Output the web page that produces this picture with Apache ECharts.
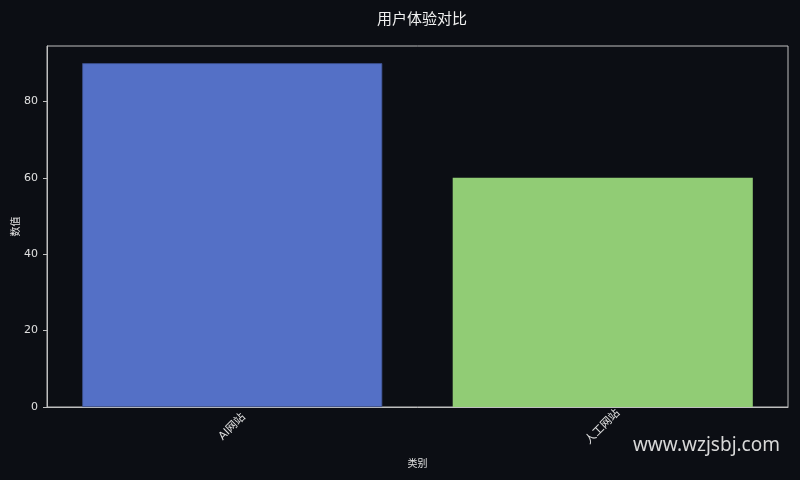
<!DOCTYPE html>
<html>
<head>
<meta charset="utf-8">
<script src="https://cdn.jsdelivr.net/npm/echarts@6/dist/echarts.min.js"></script>
<style>
  html, body { margin: 0; padding: 0; background: #0c0e14; }
  #chart { width: 800px; height: 480px; }
</style>
</head>
<body>
<div id="chart"></div>
<script>
  // chart data
  var categories = ["AI网站", "人工网站"];
  var values = [90, 60];
  var barColors = ["#5470c6", "#91cc75"];

  var FONT = "'DejaVu Sans', 'Noto Sans CJK SC', sans-serif";
  var TEXT = "#e0e0e0";
  var LINE = "#bfbfbf";

  var chart = echarts.init(document.getElementById("chart"), null, { renderer: "canvas" });

  chart.setOption({
    backgroundColor: "#0c0e14",
    animation: false,
    title: {
      text: "用户体验对比",
      left: 417,
      top: 8,
      textAlign: "center",
      textStyle: { color: "#f0f0f0", fontSize: 15, fontWeight: "normal", fontFamily: FONT }
    },
    graphic: [{
      type: "text",
      right: 20,
      top: 436,
      style: { text: "www.wzjsbj.com", fill: "#d8d8d8", fontSize: 19, fontFamily: "'Noto Sans', 'DejaVu Sans', sans-serif" }
    }],
    grid: {
      left: 47, right: 12, top: 46, bottom: 73,
      show: true, borderColor: LINE, borderWidth: 1,
      containLabel: false,
      outerBoundsMode: "none"
    },
    xAxis: {
      type: "category",
      data: categories,
      name: "类别",
      nameLocation: "middle",
      nameGap: 52,
      nameMoveOverlap: false,
      nameTextStyle: { color: TEXT, fontSize: 10, fontFamily: FONT },
      axisLine: { lineStyle: { color: LINE } },
      axisTick: { alignWithLabel: true, length: 4, lineStyle: { color: LINE } },
      axisLabel: {
        rotate: 45, color: TEXT, fontSize: 11, fontFamily: FONT,
        align: "center", verticalAlign: "middle", margin: 20
      },
      splitLine: { show: false }
    },
    yAxis: {
      type: "value",
      min: 0,
      max: 94.5,
      interval: 20,
      name: "数值",
      nameLocation: "middle",
      nameGap: 26,
      nameMoveOverlap: false,
      nameTextStyle: { color: TEXT, fontSize: 10, fontFamily: FONT },
      axisLine: { show: true, lineStyle: { color: LINE } },
      axisTick: { show: true, length: 4, lineStyle: { color: LINE } },
      axisLabel: {
        color: TEXT, fontSize: 11, fontFamily: FONT, margin: 9,
        showMaxLabel: false
      },
      splitLine: { show: false }
    },
    series: [{
      type: "bar",
      barWidth: "81%",
      data: values.map(function (v, i) {
        return { value: v, itemStyle: { color: barColors[i], borderColor: "#3c4f8c", borderWidth: i === 0 ? 0.8 : 0 } };
      })
    }]
  });
</script>
</body>
</html>
